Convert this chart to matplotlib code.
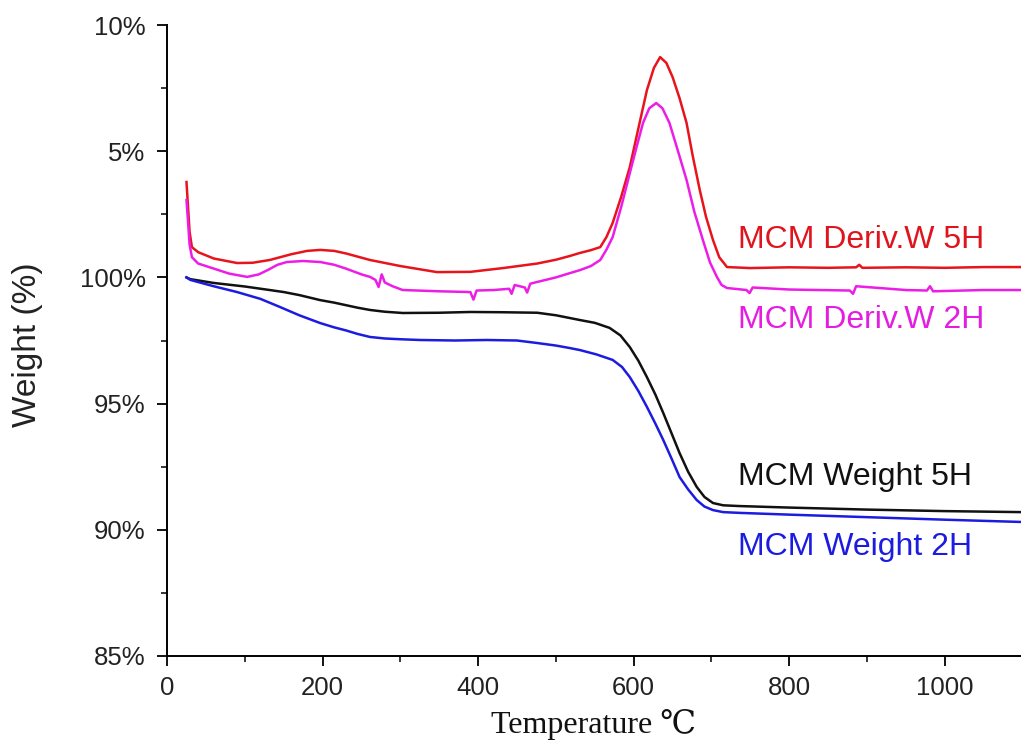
import numpy as np
import matplotlib
matplotlib.use('Agg')
import matplotlib.pyplot as plt
from matplotlib.ticker import MultipleLocator, FixedLocator

# 1. TGA data: temperature (C) and weight / derivative (upper band shifted by 100)
red_x = [25, 27, 29, 32, 40, 60, 90, 110, 132, 160, 180, 197, 215, 230, 261,
         300, 347, 390, 432, 476, 500, 518, 531, 545, 557, 565, 573, 584, 595,
         606, 617, 626, 634, 642, 650, 659, 668, 676, 685, 693, 702, 710, 720,
         750, 800, 850, 886, 890, 894, 950, 1000, 1050, 1098]
red_y = [103.78, 102.8, 101.8, 101.2, 101.0, 100.75, 100.57, 100.58, 100.69,
         100.92, 101.05, 101.09, 101.05, 100.95, 100.69, 100.45, 100.21, 100.22,
         100.37, 100.55, 100.7, 100.85, 100.97, 101.08, 101.2, 101.6, 102.16,
         103.2, 104.37, 105.9, 107.42, 108.3, 108.73, 108.5, 107.94, 107.1,
         106.12, 104.8, 103.46, 102.4, 101.48, 100.8, 100.41, 100.37, 100.4,
         100.38, 100.4, 100.5, 100.38, 100.4, 100.38, 100.41, 100.41]

mag_x = [25, 27, 29, 32, 40, 60, 80, 103, 118, 130, 142, 154, 175, 197, 215,
         230, 250, 261, 268, 272, 276, 280, 290, 303, 350, 390, 394, 398, 420,
         440, 443, 447, 460, 463, 467, 476, 500, 518, 531, 545, 557, 565, 573,
         584, 595, 604, 612, 620, 629, 637, 646, 657, 668, 678, 689, 698, 707,
         713, 720, 745, 749, 753, 800, 878, 882, 886, 950, 977, 981, 985, 1050,
         1098]
mag_y = [103.07, 102.2, 101.3, 100.8, 100.55, 100.35, 100.15, 100.02, 100.12,
         100.3, 100.5, 100.61, 100.65, 100.61, 100.5, 100.35, 100.12, 100.02,
         99.9, 99.62, 100.12, 99.8, 99.65, 99.5, 99.45, 99.42, 99.12, 99.48,
         99.5, 99.55, 99.35, 99.7, 99.6, 99.4, 99.75, 99.82, 100.0, 100.17,
         100.29, 100.45, 100.69, 101.1, 101.6, 102.8, 104.13, 105.2, 106.12,
         106.7, 106.91, 106.7, 106.12, 105.0, 103.86, 102.6, 101.48, 100.6,
         100.02, 99.7, 99.58, 99.5, 99.38, 99.6, 99.52, 99.48, 99.35, 99.65,
         99.5, 99.48, 99.65, 99.45, 99.5, 99.5]

black_x = [25, 30, 60, 100, 132, 150, 170, 197, 215, 230, 245, 261, 280, 303,
           350, 390, 430, 476, 500, 518, 531, 550, 569, 583, 595, 606, 617, 628,
           638, 649, 659, 670, 681, 691, 702, 715, 736, 800, 900, 1000, 1098]
black_y = [100.0, 99.93, 99.78, 99.64, 99.5, 99.42, 99.3, 99.1, 99.0, 98.9,
           98.8, 98.71, 98.64, 98.59, 98.6, 98.63, 98.62, 98.6, 98.5, 98.39,
           98.31, 98.2, 98.0, 97.7, 97.24, 96.7, 96.05, 95.35, 94.63, 93.8,
           93.04, 92.3, 91.7, 91.3, 91.06, 90.97, 90.94, 90.88, 90.8, 90.74,
           90.7]

blue_x = [25, 30, 60, 90, 120, 145, 170, 197, 215, 230, 245, 261, 280, 300,
          325, 370, 411, 450, 476, 500, 518, 531, 552, 573, 585, 595, 606, 617,
          628, 638, 649, 659, 670, 681, 691, 702, 715, 736, 800, 900, 1000, 1098]
blue_y = [100.0, 99.9, 99.65, 99.42, 99.15, 98.83, 98.5, 98.19, 98.02, 97.9,
          97.76, 97.64, 97.58, 97.55, 97.52, 97.5, 97.52, 97.5, 97.4, 97.3,
          97.2, 97.12, 96.95, 96.73, 96.45, 96.05, 95.5, 94.87, 94.2, 93.56,
          92.8, 92.09, 91.6, 91.18, 90.92, 90.78, 90.7, 90.67, 90.6, 90.5,
          90.4, 90.31]

y_ticks = [85, 90, 95, 100, 105, 110]
y_labels = ['85%', '90%', '95%', '100%', '5%', '10%']
x_ticks = [0, 200, 400, 600, 800, 1000]

sans = ['Liberation Sans', 'DejaVu Sans']

# 2. figure
fig = plt.figure(figsize=(10.21, 7.45), dpi=100)
ax = fig.add_axes([0.1636, 0.1195, 0.8364, 0.8469])

ax.plot(red_x, red_y, color='#e8141c', lw=1.8)
ax.plot(mag_x, mag_y, color='#ec1ee6', lw=1.8)
ax.plot(black_x, black_y, color='#111111', lw=1.8)
ax.plot(blue_x, blue_y, color='#1c1ce0', lw=1.8)

# 3. curve labels
lab_font = dict(family=sans, fontsize=23, ha='left', va='center')
ax.text(734, 101.5, 'MCM Deriv.W 5H', color='#e0141c', **lab_font)
ax.text(734, 98.3, 'MCM Deriv.W 2H', color='#e41ee0', **lab_font)
ax.text(734, 92.1, 'MCM Weight 5H', color='#111111', **lab_font)
ax.text(734, 89.3, 'MCM Weight 2H', color='#1c1ce0', **lab_font)

# 4. axes
ax.set_xlim(0, 1098)
ax.set_ylim(85, 110)
for s in ['top', 'right']:
    ax.spines[s].set_visible(False)
for s in ['left', 'bottom']:
    ax.spines[s].set_linewidth(1.4)

ax.yaxis.set_major_locator(FixedLocator(y_ticks))
ax.set_yticklabels(y_labels)
ax.yaxis.set_minor_locator(MultipleLocator(2.5))
ax.set_xticks(x_ticks)
ax.xaxis.set_minor_locator(MultipleLocator(100))
ax.tick_params(which='major', direction='out', length=7.5, width=1.3,
               labelsize=18.5)
ax.tick_params(axis='y', which='major', pad=8)
ax.tick_params(axis='x', which='major', pad=7)
ax.tick_params(which='minor', direction='out', length=4.5, width=1.1)
for t in ax.get_xticklabels() + ax.get_yticklabels():
    t.set_family(sans)
    t.set_color('#222222')

fig.text(0.027, 0.537, 'Weight (%)', fontsize=24, family=sans, rotation=90,
         ha='center', va='center', color='#222222')
fig.text(0.581, 0.028, 'Temperature \u2103', fontsize=23, ha='center', va='center',
         family=['Liberation Serif', 'DejaVu Serif'], color='#111111')

fig.savefig('out.png', dpi=100)
